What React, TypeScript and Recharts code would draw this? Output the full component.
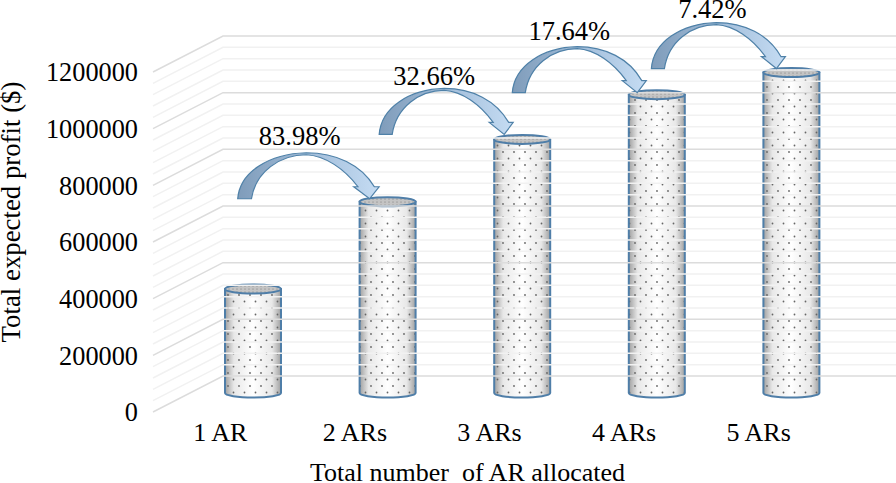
import { Bar, BarChart, LabelList, ReferenceLine, XAxis, YAxis } from "recharts";

const categories = ["1 AR", "2 ARs", "3 ARs", "4 ARs", "5 ARs"];
const profits = [367000, 675000, 895000, 1053000, 1131000];
const growthLabels = ["", "83.98%", "32.66%", "17.64%", "7.42%"];
const yTicks = [0, 200000, 400000, 600000, 800000, 1000000, 1200000];
const minorTicks = [
  40000, 80000, 120000, 160000, 240000, 280000, 320000, 360000, 440000, 480000, 520000, 560000,
  640000, 680000, 720000, 760000, 840000, 880000, 920000, 960000, 1040000, 1080000, 1120000, 1160000,
];

const data = categories.map((category, i) => ({ category, profit: profits[i], growth: growthLabels[i] }));

const FONT = '"Liberation Serif", "Times New Roman", serif';
const WALL_DX = 70;
const WALL_DY = 36;
const BAR_DX = 33;
const BAR_DY = 19;
const BAR_RX = 28;
const BAR_RY = 4.5;

// arrows are hand placed in the original, so each one gets its own nudge
const arrowTipDx = [0, -18, -18, -19.5, -15];
const arrowTipDy = [0, -3, -5, -2, -4];
const arrowScale = [1, 1.055, 1, 1, 1];
const arrowLabelDx = [0, -70, -70, -68, -64];
const arrowLabelDy = [0, -54, -49, -53, -51];

// wall gridline: runs back along the side wall, then across the back wall
const wallLine = (color: string) => (props: any) => {
  const { x1, y1, x2 } = props;
  return (
    <polyline
      points={`${x1},${y1} ${x1 + WALL_DX},${y1 - WALL_DY} ${x2 + WALL_DX},${y1 - WALL_DY}`}
      fill="none"
      stroke={color}
      strokeWidth={1.5}
    />
  );
};

function Cylinder(props: any) {
  const { x, y, width, height } = props;
  const cx = x + width / 2 + BAR_DX;
  const top = y - BAR_DY;
  const bottom = y + height - BAR_DY;
  const l = cx - BAR_RX;
  const r = cx + BAR_RX;
  const side = `M${l},${top} L${l},${bottom} A${BAR_RX},${BAR_RY} 0 0 0 ${r},${bottom} L${r},${top} Z`;
  return (
    <g>
      <path d={side} fill="url(#cylShade)" />
      <path d={side} fill="url(#cylDots)" stroke="#4f7ea8" strokeWidth={2} />
      <ellipse cx={cx} cy={top} rx={BAR_RX} ry={BAR_RY} fill="#c4c4c4" />
      <ellipse cx={cx} cy={top} rx={BAR_RX} ry={BAR_RY} fill="url(#topDots)" stroke="#4f7ea8" strokeWidth={2} />
    </g>
  );
}

function GrowthArrow(props: any) {
  const { x, y, width, index } = props;
  const label = growthLabels[index];
  if (!label) return null;
  const tx = x + width / 2 + BAR_DX + arrowTipDx[index];
  const ty = y - BAR_DY + arrowTipDy[index];
  return (
    <g transform={`translate(${tx},${ty})`}>
      <path
        transform={`scale(${arrowScale[index]},1)`}
        d="M-125,0 C-123,-27 -95,-45 -60,-46 C-32,-46 -8,-34 4.5,-12 L9,-12 L0,0 L-15,-12 L-11,-12 C-24,-30 -42,-43 -60,-44 C-85,-44 -108,-27 -112,0 Z"
        fill="url(#arrowFill)"
        stroke="#4f81a8"
        strokeWidth={1.2}
      />
      <text
        x={arrowLabelDx[index]}
        y={arrowLabelDy[index]}
        textAnchor="middle"
        fontFamily={FONT}
        fontSize={26.5}
        fill="#000"
      >
        {label}
      </text>
    </g>
  );
}

export default function App() {
  return (
    <div style={{ position: "absolute", left: 0, top: 0, width: 896, height: 483, background: "#fff" }}>
      <BarChart width={896} height={483} data={data} margin={{ top: 36, right: 70, bottom: 0, left: 0 }}>
        <defs>
          <linearGradient id="cylShade" x1="0" y1="0" x2="1" y2="0">
            <stop offset="0%" stopColor="#a0a0a0" />
            <stop offset="16%" stopColor="#e8e8e8" />
            <stop offset="50%" stopColor="#ffffff" />
            <stop offset="84%" stopColor="#e8e8e8" />
            <stop offset="100%" stopColor="#a0a0a0" />
          </linearGradient>
          <linearGradient id="arrowFill" x1="0" y1="0" x2="1" y2="0">
            <stop offset="0%" stopColor="#7f9cba" />
            <stop offset="55%" stopColor="#a5c0dc" />
            <stop offset="100%" stopColor="#c5dcf3" />
          </linearGradient>
          <pattern id="cylDots" width={11} height={13} patternUnits="userSpaceOnUse">
            <circle cx={2.5} cy={2.5} r={0.9} fill="#666" />
            <circle cx={8} cy={9} r={0.9} fill="#666" />
          </pattern>
          <pattern id="topDots" width={4} height={3} patternUnits="userSpaceOnUse">
            <circle cx={1} cy={1} r={0.5} fill="#666" />
          </pattern>
        </defs>
        <XAxis
          dataKey="category"
          height={71}
          axisLine={false}
          tickLine={false}
          tickMargin={5}
          tick={{ fontFamily: FONT, fontSize: 26, fill: "#000" }}
          label={{
            value: "Total number\u00a0 of AR allocated",
            position: "insideBottom",
            offset: 2,
            dx: -22,
            style: { fontFamily: FONT, fontSize: 26, fill: "#000" },
          }}
        />
        <YAxis
          width={153}
          domain={[0, 1327059]}
          ticks={yTicks}
          interval={0}
          axisLine={false}
          tickLine={false}
          tickMargin={9}
          tick={{ fontFamily: FONT, fontSize: 26.3, fill: "#000" }}
          label={{
            value: "Total expected profit ($)",
            angle: -90,
            position: "insideLeft",
            offset: 10,
            dy: -12,
            style: { fontFamily: FONT, fontSize: 26.8, fill: "#000", textAnchor: "middle" },
          }}
        />
        {minorTicks.map((v) => (
          <ReferenceLine key={v} y={v} shape={wallLine("#f1f1f1")} />
        ))}
        {yTicks.map((v) => (
          <ReferenceLine key={v} y={v} shape={wallLine("#dcdcdc")} />
        ))}
        <Bar dataKey="profit" barSize={56} shape={Cylinder} isAnimationActive={false}>
          <LabelList dataKey="growth" content={GrowthArrow} />
        </Bar>
      </BarChart>
    </div>
  );
}
